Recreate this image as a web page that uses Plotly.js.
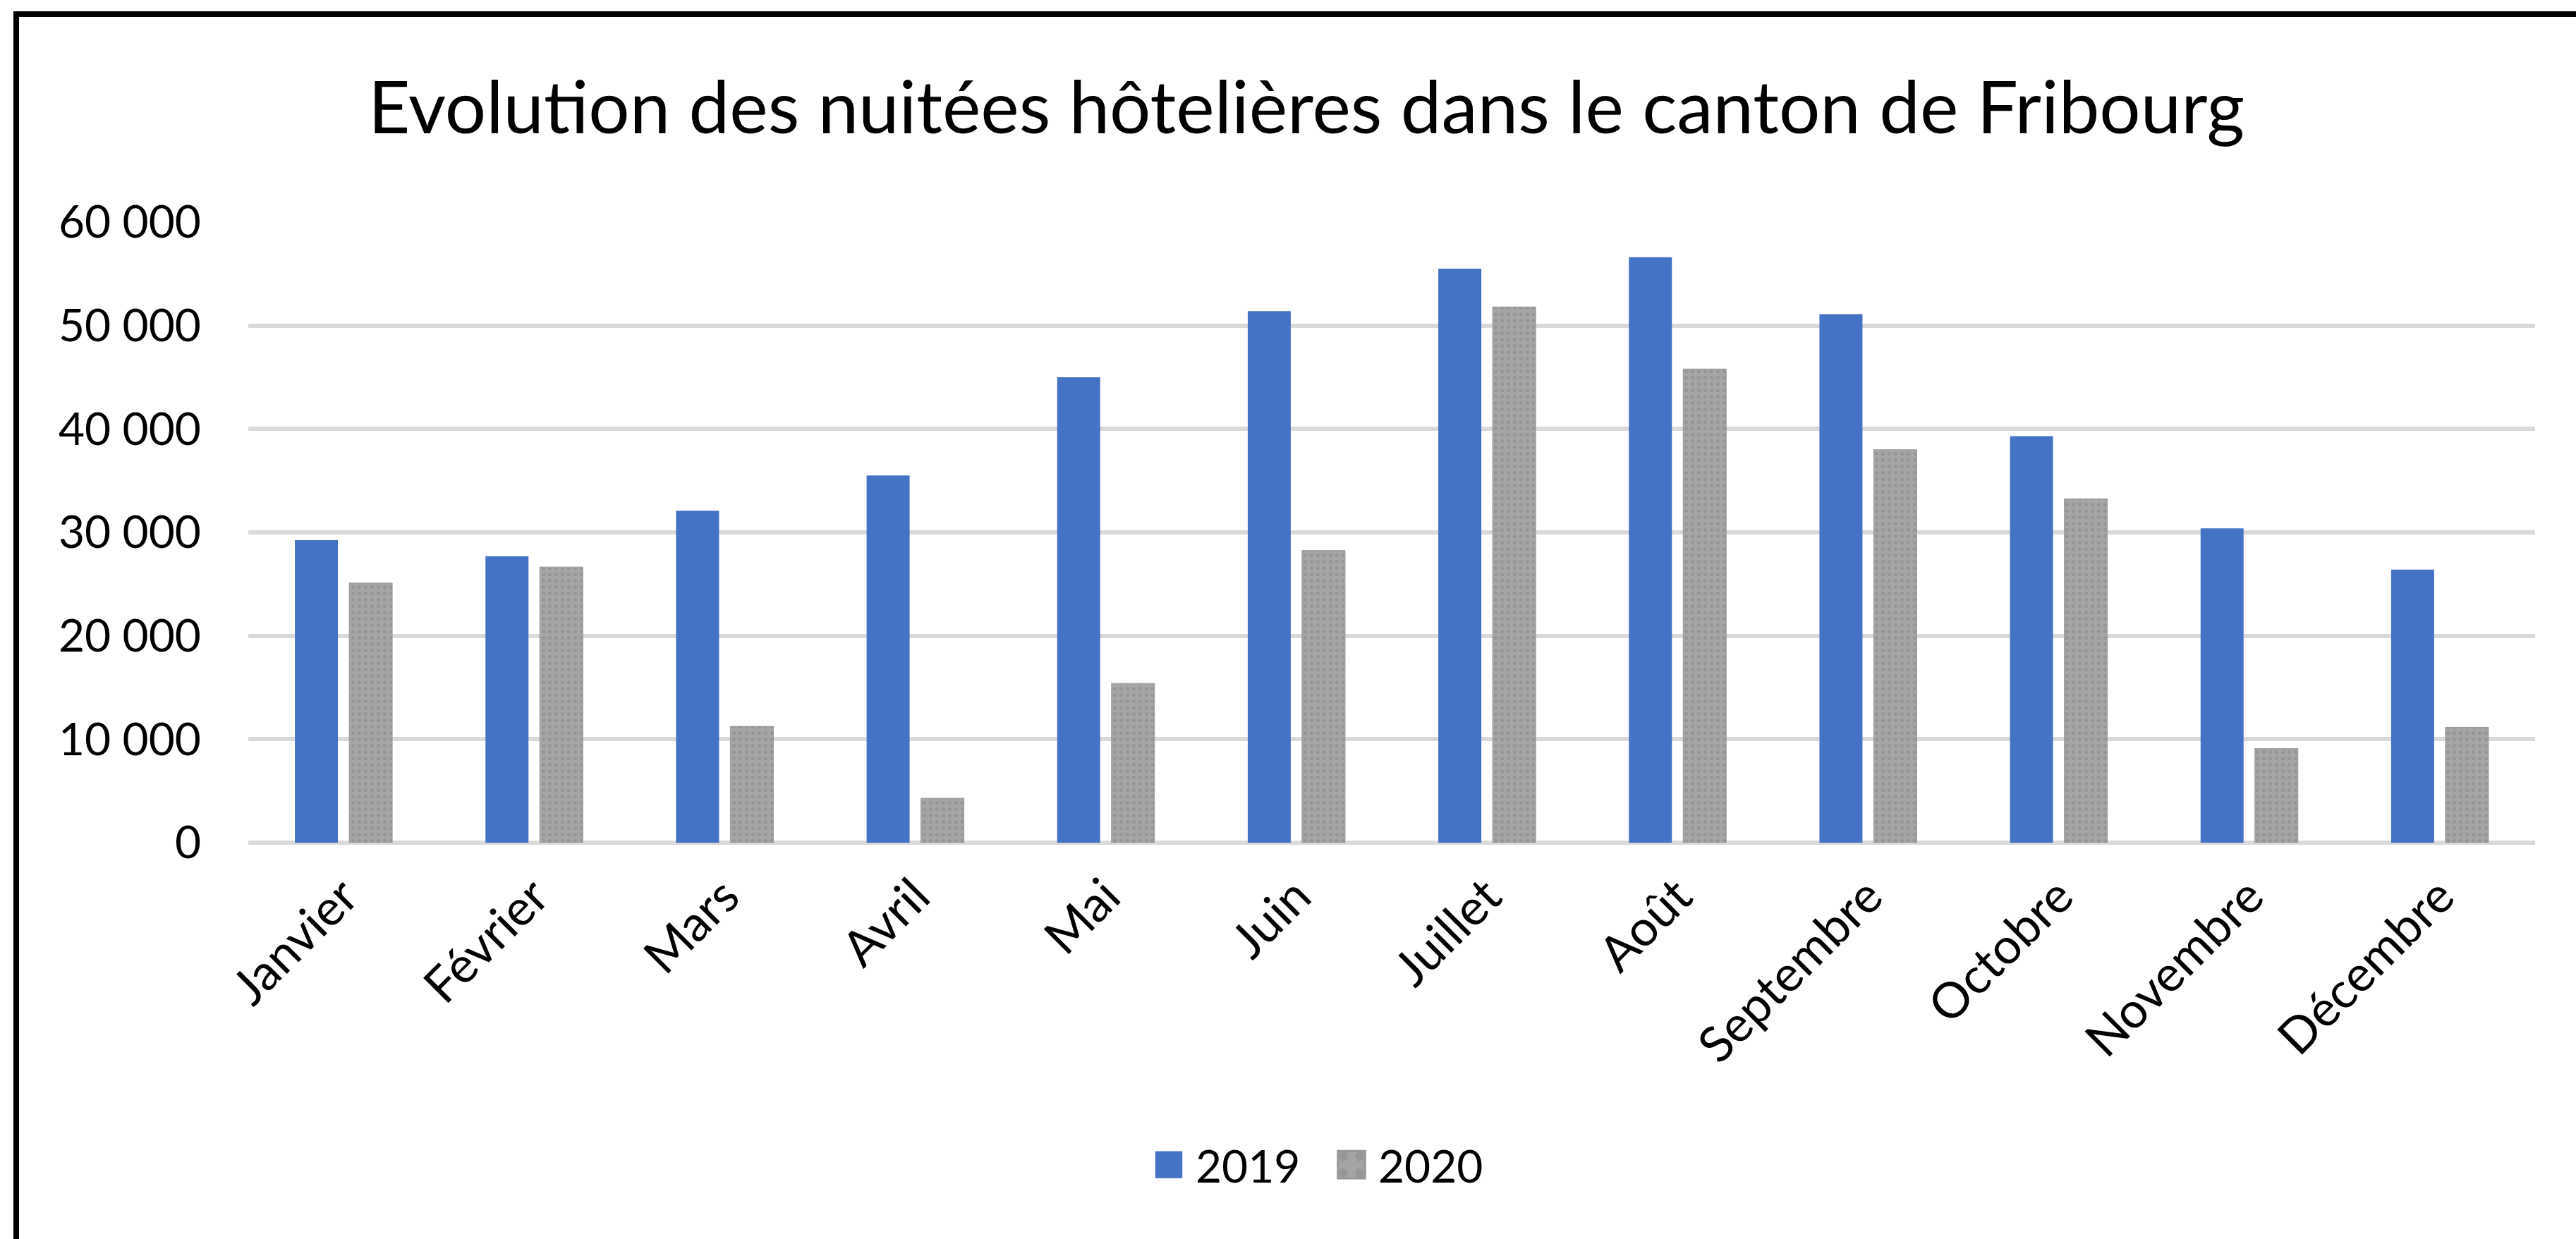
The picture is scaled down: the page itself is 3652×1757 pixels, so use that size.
<!DOCTYPE html>
<html>
<head>
<meta charset="utf-8">
<script src="https://cdn.plot.ly/plotly-3.0.1.min.js"></script>
<style>
  html, body { margin: 0; padding: 0; background: #ffffff; }
  #chart { width: 3652px; height: 1757px; }
</style>
</head>
<body>
<div id="chart"></div>
<script>
// ---- data ----
const chartTitle = 'Evolution des nuitées hôtelières dans le canton de Fribourg';
const months = ['Janvier', 'Février', 'Mars', 'Avril', 'Mai', 'Juin', 'Juillet', 'Août', 'Septembre', 'Octobre', 'Novembre', 'Décembre'];
const seriesNames = ['2019', '2020'];
const nuitees2019 = [29250, 27700, 32100, 35500, 45000, 51400, 55500, 56600, 51100, 39300, 30400, 26400];
const nuitees2020 = [25100, 26650, 11250, 4300, 15400, 28250, 51800, 45800, 38000, 33250, 9100, 11150];
const yTickValues = [0, 10000, 20000, 30000, 40000, 50000, 60000];

// ---- layout constants ----
const W = 3652, H = 1757;
const M = { l: 352, r: 58, t: 315, b: 562 };
const FONT = 'Lato, Calibri, Carlito, "Open Sans", sans-serif';
const plotW = W - M.l - M.r, plotH = H - M.t - M.b;
const px2paperX = px => (px - M.l) / plotW;
const px2paperY = py => (H - M.b - py) / plotH;

const traces = [
  {
    type: 'bar', name: seriesNames[0], x: months, y: nuitees2019,
    marker: { color: '#4472c4' }
  },
  {
    type: 'bar', name: seriesNames[1], x: months, y: nuitees2020,
    marker: {
      color: '#a5a5a5',
      line: { color: '#999999', width: 1 },
      pattern: { shape: '.', fgcolor: '#969696', bgcolor: '#a5a5a5', size: 9, solidity: 0.25 }
    }
  }
];

const layout = {
  width: W, height: H,
  margin: M,
  paper_bgcolor: '#ffffff', plot_bgcolor: '#ffffff',
  separators: ', ',
  font: { family: FONT, color: '#000000', size: 64 },
  title: {
    text: chartTitle,
    font: { family: FONT, size: 103, color: '#000000' },
    xref: 'container', x: 1852 / W, xanchor: 'center',
    yref: 'container', y: 1 - 189 / H, yanchor: 'bottom'
  },
  barmode: 'group',
  bargap: 0.43,
  bargroupgap: 0.208,
  xaxis: {
    type: 'category',
    tickangle: -45,
    tickfont: { family: FONT, size: 70, color: '#000000' },
    showgrid: false, showline: false, zeroline: false,
    ticks: '', ticklabelstandoff: 20,
    automargin: false, fixedrange: true
  },
  yaxis: {
    range: [0, 60000],
    tickvals: yTickValues,
    tickformat: ',d',
    tickfont: { family: FONT, size: 64, color: '#000000' },
    showgrid: true, gridcolor: '#d9d9d9', gridwidth: 6,
    zeroline: true, zerolinecolor: '#d9d9d9', zerolinewidth: 6,
    showline: false, ticks: '', ticklabelstandoff: 66,
    automargin: false, fixedrange: true
  },
  showlegend: true,
  legend: {
    orientation: 'h',
    xref: 'container', x: 1878 / W, xanchor: 'center',
    yref: 'container', y: 1 - 1652 / H, yanchor: 'middle',
    font: { family: FONT, size: 64, color: '#000000' },
    itemwidth: 66,
    entrywidth: 178,
    bgcolor: 'rgba(0,0,0,0)'
  },
  shapes: [
    { type: 'line', xref: 'paper', yref: 'paper', layer: 'above',
      x0: px2paperX(23), x1: px2paperX(23), y0: px2paperY(H + 50), y1: px2paperY(16),
      line: { color: '#000000', width: 8 } },
    { type: 'line', xref: 'paper', yref: 'paper', layer: 'above',
      x0: px2paperX(19), x1: px2paperX(W + 50), y0: px2paperY(20), y1: px2paperY(20),
      line: { color: '#000000', width: 8 } }
  ]
};

Plotly.newPlot('chart', traces, layout, { staticPlot: true, displayModeBar: false }).then(gd => {
  gd.querySelectorAll('.legend .legendpoints path').forEach(p => {
    const t = p.getAttribute('transform') || '';
    p.setAttribute('transform', (t + ' scale(3.2)').trim());
  });
});
</script>
</body>
</html>
